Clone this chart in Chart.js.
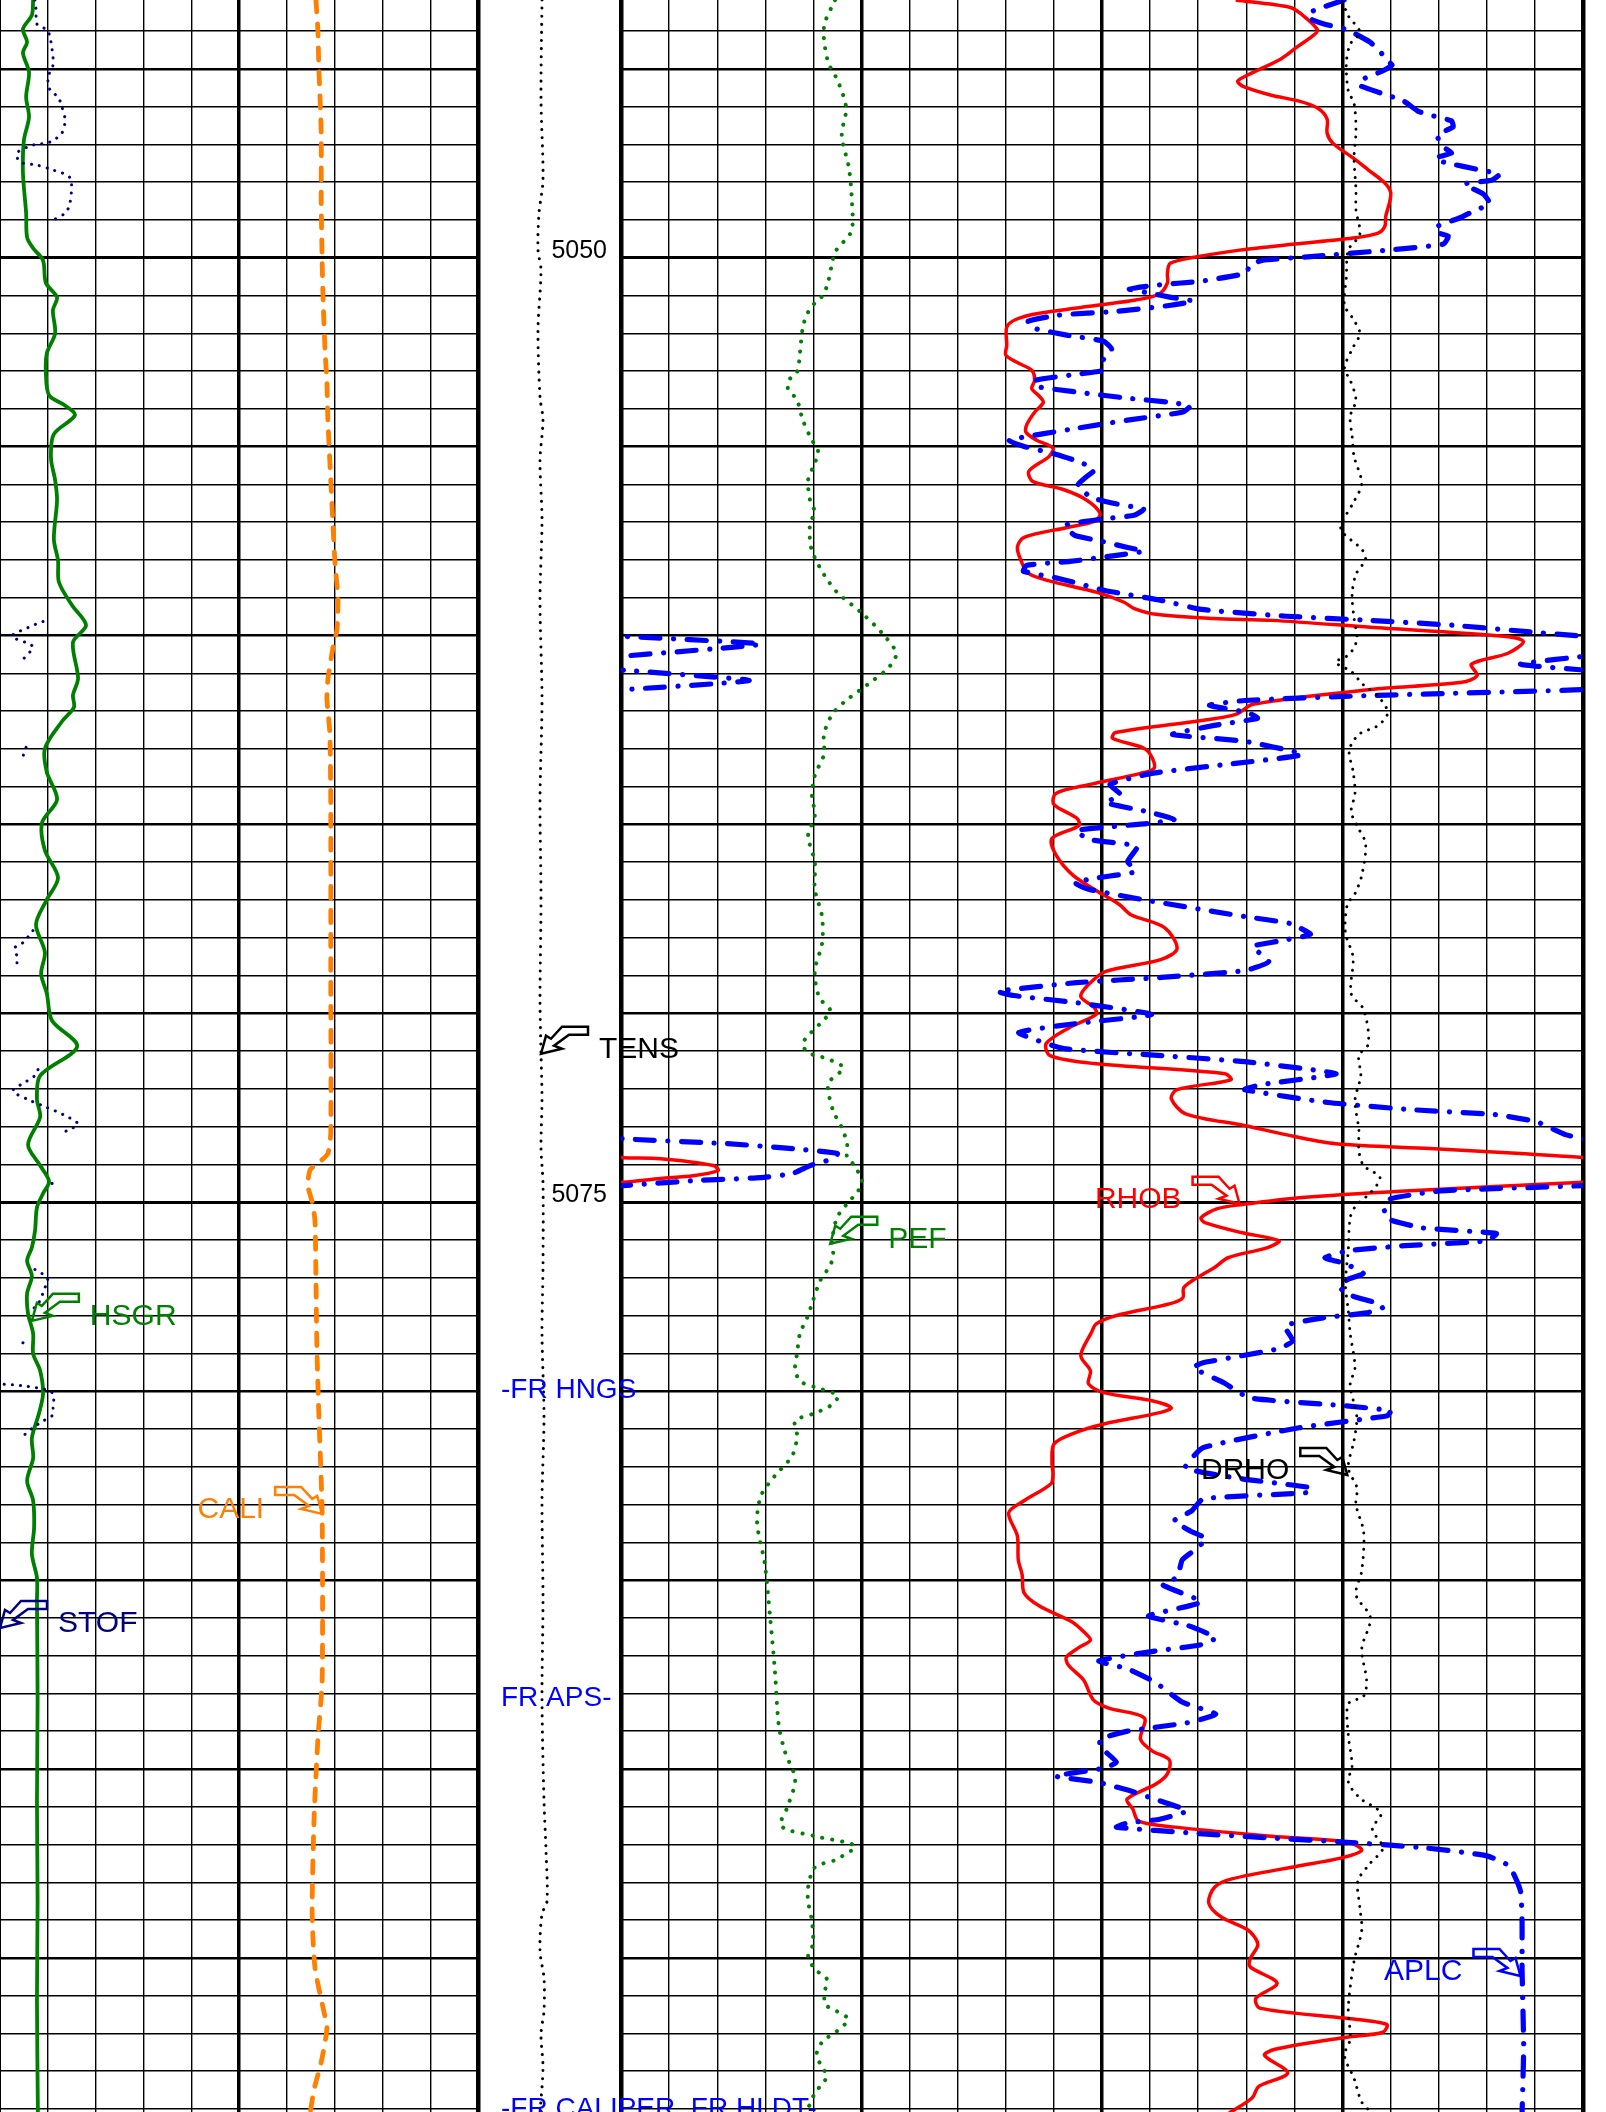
<!DOCTYPE html>
<html>
<head>
<meta charset="utf-8">
<title>Well log 5043–5099 ft</title>
<script src="https://cdn.jsdelivr.net/npm/chart.js@4.4.1/dist/chart.umd.min.js"></script>
<style>
  html, body { margin: 0; padding: 0; background: #fff; }
  #log { position: relative; width: 1606px; height: 2112px; overflow: hidden; background: #fff; }
  #log canvas { position: absolute; top: 0; }
</style>
</head>
<body>
<div id="log">
  <canvas id="track1" width="492" height="2112" style="left:0px"></canvas>
  <canvas id="track23" width="982" height="2112" style="left:611px"></canvas>
  <canvas id="depthTrack" width="440" height="2112" style="left:478px"></canvas>
</div>
<script>
// ---------------- depth window (ft) ----------------
const DEPTH_TOP = 5043.18;
const DEPTH_BOTTOM = 5099.08;
const depthMarks = [5050, 5075];

// ---------------- track 1 ----------------
// HSGR, gAPI  [depth, value]
const hsgr = [
  [5043.18,10.4],[5043.58,10.0],[5043.95,7.2],[5044.29,8.5],[5044.58,7.2],[5045.09,9.1],[5045.75,8.2],
  [5046.28,9.1],[5046.89,7.5],[5047.76,7.2],[5048.82,8.2],[5049.46,8.5],[5049.75,10.4],[5050.07,13.5],
  [5050.67,14.4],[5051.05,17.9],[5051.39,16.6],[5052.00,17.3],[5052.53,14.7],[5053.06,14.4],[5053.64,15.4],
  [5053.91,20.4],[5054.17,23.5],[5054.67,16.9],[5055.31,16.0],[5055.89,17.3],[5056.42,17.9],[5057.45,16.9],
  [5058.01,18.2],[5058.59,18.5],[5059.20,22.6],[5059.73,27.0],[5060.18,22.9],[5061.13,24.5],[5061.58,22.9],
  [5061.90,23.2],[5062.27,19.5],[5062.99,14.1],[5063.62,14.7],[5064.34,17.9],[5064.95,13.2],[5065.69,14.1],
  [5066.41,18.2],[5066.99,14.7],[5067.65,11.3],[5068.39,14.1],[5068.95,12.9],[5069.48,14.7],[5070.19,16.3],
  [5070.88,24.2],[5071.65,12.6],[5072.28,11.6],[5072.74,12.6],[5073.48,8.8],[5074.03,12.6],[5074.45,15.4],
  [5074.77,13.5],[5075.14,11.6],[5075.75,11.0],[5076.20,10.0],[5076.55,8.5],[5076.95,10.0],[5077.42,8.5],
  [5077.95,8.8],[5078.48,10.4],[5079.01,10.4],[5079.46,12.6],[5080.07,13.5],[5080.60,12.2],[5081.24,10.0],
  [5081.77,10.4],[5082.37,8.5],[5082.90,10.4],[5083.62,10.7],[5084.31,10.0],[5084.94,11.6],[5085.55,11.6],
  [5088.20,11.8],[5090.85,11.6],[5093.50,11.8],[5096.15,11.6],[5099.11,11.9]
];
// STOF, in  (null = off scale)
const stof = [
  [5043.18,0.146],[5043.44,0.151],[5043.82,0.155],[5043.97,0.197],[5044.16,0.209],[5044.50,0.218],
  [5044.90,0.222],[5045.22,0.201],[5045.56,0.209],[5045.75,0.243],[5046.01,0.259],[5046.36,0.272],
  [5046.70,0.259],[5046.94,0.209],[5047.02,0.138],[5047.23,0.071],[5047.47,0.084],[5047.55,0.155],
  [5047.68,0.222],[5047.89,0.293],[5048.56,0.293],[5048.82,0.272],[5049.01,0.222],[5049.05,null],
  [5059.60,null],[5059.63,0.180],[5059.79,0.117],[5060.02,0.050],[5060.21,0.117],[5060.31,0.138],
  [5060.61,0.100],[5060.65,null],
  [5062.96,0.109],[5063.20,0.096],[5063.25,null],
  [5067.81,0.138],[5068.13,0.096],[5068.26,0.063],[5068.50,0.071],[5068.71,0.071],[5068.75,null],
  [5071.49,0.159],[5071.65,0.146],[5071.81,0.109],[5072.05,0.054],[5072.28,0.117],[5072.47,0.188],
  [5072.68,0.264],[5072.92,0.326],[5073.05,0.301],[5073.13,0.272],[5073.17,null],
  [5074.50,0.218],[5074.60,0.218],[5074.65,null],
  [5076.78,0.146],[5076.91,0.180],[5077.07,0.201],[5077.26,0.188],[5077.47,0.176],[5077.73,0.155],
  [5077.87,0.126],[5077.92,null],
  [5078.72,0.096],[5078.88,0.075],[5078.92,null],
  [5079.80,-0.05],[5079.86,0.096],[5080.04,0.218],[5080.47,0.222],[5080.65,0.218],[5080.79,0.180],
  [5080.97,0.138],[5081.21,0.092],[5081.25,null]
];
// CALI, in
const cali = [
  [5043.18,12.61],[5043.97,12.65],[5044.95,12.67],[5046.70,12.72],[5048.48,12.72],[5050.14,12.74],
  [5051.12,12.76],[5052.45,12.80],[5053.32,12.84],[5054.30,12.86],[5055.89,12.92],[5058.12,13.01],
  [5058.99,13.07],[5059.84,13.05],[5060.29,12.97],[5061.16,12.86],[5061.69,12.84],[5062.57,12.90],
  [5064.50,12.92],[5068.84,12.92],[5073.16,12.92],[5073.71,12.86],[5073.93,12.69],[5074.14,12.49],
  [5074.56,12.44],[5074.99,12.53],[5075.49,12.59],[5077.08,12.61],[5078.85,12.63],[5080.60,12.67],
  [5083.25,12.74],[5087.67,12.74],[5089.21,12.65],[5091.33,12.57],[5093.84,12.53],[5095.27,12.59],
  [5096.33,12.76],[5096.86,12.84],[5097.76,12.72],[5098.48,12.57],[5099.11,12.49]
];

// ---------------- depth track ----------------
// TENS, lbf
const tens = [
  [5043.18,4476],[5045.83,4406],[5047.95,4545],[5048.82,4266],[5049.80,4196],[5050.33,4406],
  [5051.92,4196],[5053.69,4336],[5054.30,4545],[5055.36,4336],[5056.95,4476],[5059.07,4336],
  [5061.72,4476],[5064.37,4336],[5067.01,4406],[5069.66,4336],[5071.07,4406],[5072.31,4476],
  [5073.56,4406],[5074.51,4545],[5076.74,4545],[5078.48,4476],[5080.71,4615],[5082.90,4476],
  [5085.55,4545],[5088.20,4476],[5090.85,4615],[5092.17,4755],[5093.50,4825],[5093.84,4476],
  [5094.82,4336],[5095.54,4615],[5096.41,4615],[5097.02,4406],[5097.92,4545],[5099.11,4336]
];
const toolFlags = [
  { text: '-FR HNGS', depth: 5080.18 },
  { text: 'FR APS-', depth: 5088.34 },
  { text: '-FR CALIPER, FR HLDT-', depth: 5099.21 }
];

// ---------------- tracks 2-3 ----------------
// PEF, b/e
const pef = [
  [5043.18,4.45],[5043.89,4.22],[5044.80,4.30],[5045.33,4.51],[5046.04,4.68],[5046.76,4.59],
  [5047.63,4.74],[5048.48,4.80],[5049.27,4.80],[5049.59,4.62],[5049.85,4.45],[5050.14,4.39],
  [5050.67,4.30],[5050.99,4.20],[5051.20,4.03],[5051.44,3.89],[5051.84,3.78],[5052.53,3.72],
  [5053.03,3.66],[5053.24,3.49],[5053.46,3.47],[5053.77,3.66],[5054.30,3.78],[5054.83,3.97],
  [5055.02,4.07],[5055.18,4.10],[5055.55,3.99],[5055.89,3.89],[5056.42,3.93],[5056.74,4.03],
  [5057.03,3.93],[5057.67,3.95],[5058.17,4.12],[5058.54,4.30],[5058.88,4.51],[5059.41,5.01],
  [5059.94,5.43],[5060.47,5.72],[5060.84,5.57],[5061.19,5.24],[5061.72,4.68],[5062.09,4.39],
  [5062.62,4.22],[5063.15,4.22],[5063.70,4.03],[5064.23,3.97],[5064.76,4.03],[5065.29,3.89],
  [5066.01,4.03],[5066.72,4.03],[5067.44,4.18],[5068.15,4.18],[5068.87,4.03],[5069.58,4.12],
  [5069.93,4.35],[5070.27,4.14],[5070.54,3.93],[5070.80,3.78],[5071.04,3.89],[5071.20,4.28],
  [5071.44,4.62],[5071.78,4.35],[5071.97,4.30],[5072.58,4.41],[5073.03,4.59],[5073.45,4.70],
  [5073.82,4.70],[5073.98,4.82],[5074.43,5.01],[5074.70,4.93],[5075.04,4.70],[5075.41,4.49],
  [5076.02,4.39],[5076.47,4.41],[5076.81,4.28],[5077.08,4.14],[5077.61,3.99],[5078.06,3.87],
  [5078.48,3.72],[5079.01,3.66],[5079.38,3.62],[5079.73,3.72],[5079.91,4.07],[5080.12,4.51],
  [5080.39,4.35],[5080.60,3.99],[5080.79,3.62],[5081.18,3.66],[5081.71,3.56],[5082.24,3.20],
  [5082.77,2.91],[5083.49,2.83],[5084.57,2.99],[5085.98,3.10],[5087.40,3.20],[5088.84,3.28],
  [5089.55,3.41],[5090.27,3.62],[5090.98,3.47],[5091.51,3.33],[5091.78,4.03],[5092.04,4.86],
  [5092.41,4.45],[5092.60,4.03],[5093.13,3.89],[5093.50,3.89],[5094.03,3.97],[5094.64,3.99],
  [5094.95,3.89],[5095.30,4.03],[5095.56,4.28],[5095.88,4.24],[5096.23,4.24],[5096.36,4.41],
  [5096.62,4.72],[5096.94,4.49],[5097.20,4.20],[5097.52,4.07],[5097.81,4.14],[5098.13,4.28],
  [5098.34,4.18],[5098.58,4.03],[5099.11,3.85]
];
// RHOB, g/cm3
const rhob = [
  [5043.18,2.589],[5043.37,2.645],[5043.55,2.657],[5043.97,2.674],[5044.13,2.669],[5044.40,2.654],
  [5044.74,2.636],[5045.11,2.606],[5045.33,2.591],[5045.48,2.598],[5045.70,2.626],[5045.85,2.654],
  [5046.04,2.674],[5046.33,2.684],[5046.70,2.684],[5046.97,2.690],[5047.36,2.711],[5047.68,2.727],
  [5048.00,2.743],[5048.26,2.750],[5048.53,2.749],[5048.90,2.745],[5049.17,2.744],[5049.35,2.737],
  [5049.48,2.711],[5049.64,2.650],[5049.80,2.593],[5049.99,2.546],[5050.15,2.521],[5050.41,2.518],
  [5050.67,2.518],[5050.97,2.509],[5051.12,2.485],[5051.26,2.445],[5051.47,2.385],[5051.63,2.361],
  [5051.84,2.351],[5052.32,2.351],[5052.58,2.350],[5052.79,2.363],[5052.98,2.377],[5053.24,2.380],
  [5053.46,2.377],[5053.67,2.385],[5053.83,2.389],[5054.09,2.380],[5054.41,2.372],[5054.62,2.371],
  [5054.83,2.382],[5055.04,2.399],[5055.26,2.395],[5055.65,2.374],[5055.92,2.378],[5056.13,2.409],
  [5056.40,2.433],[5056.77,2.448],[5056.98,2.442],[5057.14,2.414],[5057.40,2.369],[5057.67,2.362],
  [5058.09,2.367],[5058.35,2.373],[5058.54,2.393],[5058.86,2.445],[5059.12,2.473],[5059.28,2.483],
  [5059.44,2.506],[5059.55,2.566],[5059.60,2.627],[5059.78,2.729],[5060.02,2.868],[5060.16,2.888],
  [5060.47,2.872],[5060.76,2.834],[5061.06,2.840],[5061.24,2.824],[5061.43,2.729],[5061.82,2.607],
  [5062.09,2.589],[5062.25,2.554],[5062.57,2.464],[5062.72,2.461],[5062.99,2.494],[5063.23,2.502],
  [5063.52,2.504],[5063.65,2.490],[5063.94,2.438],[5064.18,2.402],[5064.47,2.400],[5064.84,2.424],
  [5065.03,2.426],[5065.37,2.398],[5065.80,2.402],[5066.35,2.420],[5066.78,2.446],[5067.12,2.468],
  [5067.39,2.480],[5067.73,2.515],[5068.29,2.528],[5068.58,2.511],[5068.89,2.454],[5069.24,2.436],
  [5069.56,2.428],[5069.85,2.442],[5070.03,2.444],[5070.38,2.416],[5070.80,2.392],[5071.12,2.396],
  [5071.33,2.442],[5071.60,2.578],[5071.76,2.584],[5072.02,2.528],[5072.26,2.522],[5072.66,2.537],
  [5072.97,2.598],[5073.26,2.650],[5073.45,2.693],[5073.58,2.791],[5073.71,2.885],[5073.82,2.952],
  [5073.85,2.991],[5074.03,3.046],[5074.16,3.051],[5074.30,3.025],[5074.37,2.991],[5074.47,2.952],
  [5074.70,2.765],[5074.88,2.655],[5075.06,2.596],[5075.17,2.570],[5075.41,2.553],[5075.54,2.557],
  [5075.81,2.596],[5076.02,2.634],[5076.20,2.622],[5076.47,2.581],[5076.73,2.567],[5076.95,2.552],
  [5077.26,2.535],[5077.53,2.534],[5077.69,2.520],[5078.00,2.465],[5078.22,2.444],[5078.45,2.439],
  [5079.06,2.428],[5079.46,2.438],[5079.81,2.436],[5080.04,2.452],[5080.26,2.503],[5080.44,2.522],
  [5080.57,2.510],[5080.87,2.452],[5081.13,2.419],[5081.40,2.400],[5081.90,2.398],[5082.19,2.399],
  [5082.45,2.397],[5082.90,2.369],[5083.22,2.353],[5083.83,2.362],[5084.47,2.363],[5084.86,2.367],
  [5085.34,2.369],[5085.69,2.385],[5086.11,2.419],[5086.37,2.431],[5086.59,2.438],[5086.77,2.427],
  [5087.04,2.413],[5087.25,2.415],[5087.65,2.431],[5088.17,2.441],[5088.39,2.457],[5088.65,2.494],
  [5089.21,2.490],[5089.52,2.502],[5089.76,2.520],[5090.13,2.518],[5090.40,2.506],[5090.80,2.476],
  [5091.06,2.482],[5091.38,2.488],[5091.54,2.526],[5091.78,2.626],[5091.94,2.706],[5092.15,2.720],
  [5092.36,2.698],[5092.57,2.654],[5092.91,2.585],[5093.13,2.567],[5093.55,2.561],[5093.92,2.574],
  [5094.27,2.602],[5094.64,2.612],[5095.03,2.604],[5095.24,2.604],[5095.67,2.632],[5096.07,2.610],
  [5096.33,2.614],[5096.60,2.704],[5096.76,2.746],[5096.97,2.742],[5097.10,2.704],[5097.42,2.630],
  [5097.58,2.619],[5098.05,2.643],[5098.40,2.613],[5098.71,2.606],[5099.11,2.582]
];
// DRHO, g/cm3
const drho = [
  [5043.23,0.000],[5043.60,0.006],[5044.03,0.018],[5044.35,0.008],[5044.85,0.004],[5045.59,0.006],
  [5045.91,0.012],[5046.65,0.014],[5047.36,0.012],[5048.21,0.014],[5048.74,0.014],[5049.38,0.018],
  [5049.80,0.006],[5050.52,0.004],[5051.26,0.002],[5051.58,0.010],[5052.00,0.018],[5052.42,0.010],
  [5052.93,0.002],[5053.24,0.008],[5053.77,0.014],[5054.20,0.008],[5054.73,0.010],[5055.26,0.012],
  [5055.97,0.020],[5056.45,0.012],[5057.03,-0.001],[5057.24,-0.001],[5057.72,0.020],[5057.98,0.024],
  [5058.38,0.014],[5058.91,0.010],[5059.55,0.012],[5060.10,0.015],[5060.50,0.007],[5060.71,-0.007],
  [5060.95,0.009],[5061.29,0.021],[5061.61,0.037],[5062.04,0.047],[5062.38,0.037],[5062.62,0.017],
  [5063.04,0.007],[5063.60,0.011],[5064.18,0.013],[5064.66,0.009],[5065.03,0.015],[5065.51,0.024],
  [5066.35,0.020],[5066.83,0.013],[5067.12,0.005],[5067.86,0.003],[5068.52,0.011],[5069.48,0.009],
  [5069.90,0.022],[5070.80,0.027],[5071.12,0.017],[5071.65,0.019],[5072.31,0.013],[5073.08,0.017],
  [5073.63,0.017],[5074.03,0.022],[5074.35,0.039],[5074.75,0.029],[5075.09,0.014],[5075.41,0.008],
  [5076.28,0.006],[5077.16,0.003],[5077.87,0.006],[5078.48,0.008],[5079.38,0.013],[5079.81,0.008],
  [5080.34,0.012],[5080.71,0.015],[5081.31,0.012],[5082.03,0.006],[5082.56,0.015],[5083.01,0.014],
  [5083.73,0.022],[5084.76,0.020],[5085.39,0.014],[5086.00,0.029],[5086.82,0.020],[5087.65,0.025],
  [5088.07,0.022],[5088.28,0.006],[5089.10,0.006],[5089.92,0.010],[5090.34,0.006],[5090.77,0.018],
  [5091.17,0.040],[5091.59,0.031],[5092.09,0.042],[5092.52,0.028],[5092.97,0.016],[5093.66,0.018],
  [5094.27,0.020],[5095.09,0.012],[5096.33,0.006],[5097.15,0.008],[5097.58,0.002],[5098.19,0.012],
  [5098.82,0.020],[5099.11,0.031]
];
// APLC, v/v
const aplc = [
  [5043.18,-0.001],[5043.50,0.020],[5043.66,0.021],[5043.82,0.011],[5043.97,-0.003],[5044.29,-0.017],
  [5044.56,-0.024],[5044.74,-0.026],[5044.90,-0.031],[5045.06,-0.025],[5045.27,-0.013],[5045.43,-0.010],
  [5045.70,-0.028],[5045.85,-0.038],[5046.12,-0.047],[5046.23,-0.055],[5046.38,-0.068],[5046.54,-0.069],
  [5046.76,-0.059],[5047.07,-0.063],[5047.23,-0.068],[5047.36,-0.058],[5047.47,-0.063],[5047.68,-0.086],
  [5047.79,-0.098],[5047.95,-0.093],[5048.05,-0.076],[5048.32,-0.088],[5048.58,-0.092],[5048.74,-0.083],
  [5048.95,-0.073],[5049.17,-0.059],[5049.32,-0.058],[5049.43,-0.066],[5049.64,-0.063],[5049.80,-0.028],
  [5049.96,0.016],[5050.07,0.050],[5050.20,0.058],[5050.41,0.060],[5050.62,0.088],[5050.73,0.117],
  [5050.83,0.133],[5050.94,0.120],[5051.05,0.107],[5051.15,0.093],[5051.26,0.107],[5051.42,0.141],
  [5051.52,0.177],[5051.68,0.196],[5051.84,0.195],[5052.05,0.172],[5052.21,0.149],[5052.42,0.144],
  [5052.69,0.149],[5052.98,0.149],[5053.08,0.165],[5053.24,0.191],[5053.40,0.192],[5053.56,0.165],
  [5053.72,0.134],[5053.83,0.107],[5053.93,0.095],[5054.09,0.100],[5054.30,0.134],[5054.51,0.165],
  [5054.83,0.208],[5054.99,0.199],[5055.20,0.179],[5055.42,0.163],[5055.63,0.155],[5055.81,0.160],
  [5056.02,0.165],[5056.34,0.157],[5056.50,0.143],[5056.66,0.124],[5056.82,0.130],[5056.92,0.150],
  [5057.08,0.173],[5057.35,0.167],[5057.51,0.150],[5057.67,0.134],[5057.77,0.124],[5057.88,0.141],
  [5058.04,0.170],[5058.14,0.197],[5058.30,0.199],[5058.49,0.177],[5058.81,0.148],[5059.07,0.113],
  [5059.31,0.088],[5059.49,0.035],[5059.60,-0.017],[5059.73,-0.069],[5059.92,-0.121],[5060.02,-0.151],
  [5060.23,-0.237],[5060.55,-0.151],[5060.76,-0.111],[5060.92,-0.152],[5061.19,-0.230],[5061.43,-0.151],
  [5061.59,-0.017],[5061.72,0.061],[5061.85,0.083],[5062.04,0.059],[5062.19,0.053],[5062.38,0.080],
  [5062.62,0.106],[5062.80,0.061],[5063.15,0.025],[5063.41,0.072],[5063.65,0.119],[5063.94,0.145],
  [5064.23,0.138],[5064.42,0.148],[5064.66,0.122],[5064.87,0.105],[5064.98,0.122],[5065.16,0.166],
  [5065.40,0.158],[5065.58,0.128],[5065.98,0.134],[5066.25,0.129],[5066.41,0.152],[5066.54,0.167],
  [5066.72,0.158],[5067.01,0.122],[5067.44,0.061],[5067.62,0.033],[5067.91,0.020],[5068.10,0.041],
  [5068.23,0.056],[5068.63,0.046],[5068.87,0.061],[5069.05,0.113],[5069.19,0.166],[5069.42,0.215],
  [5069.53,0.205],[5069.72,0.166],[5070.03,0.119],[5070.27,0.166],[5070.51,0.202],[5070.93,0.174],
  [5071.12,0.113],[5071.28,0.061],[5071.60,0.004],[5071.89,0.051],[5072.02,0.061],[5072.36,0.009],
  [5072.55,-0.043],[5072.68,-0.095],[5072.87,-0.121],[5073.21,-0.139],[5073.32,-0.151],[5073.45,-0.216],
  [5073.58,-0.257],[5073.71,-0.285],[5073.85,-0.282],[5074.03,-0.268],[5074.24,-0.257],[5074.35,-0.237],
  [5074.43,-0.195],[5074.56,-0.151],[5074.70,-0.061],[5074.91,-0.030],[5075.17,-0.026],[5075.44,-0.028],
  [5075.68,-0.050],[5075.83,-0.096],[5076.02,-0.090],[5076.15,-0.039],[5076.28,-0.004],[5076.47,0.011],
  [5076.63,-0.002],[5076.89,-0.013],[5077.03,-0.004],[5077.21,0.002],[5077.42,-0.002],[5077.69,-0.023],
  [5077.79,-0.025],[5077.93,-0.015],[5078.06,0.012],[5078.27,0.036],[5078.67,0.031],[5078.88,0.040],
  [5079.25,0.087],[5079.38,0.093],[5079.78,0.074],[5080.18,0.058],[5080.39,-0.002],[5080.52,-0.030],
  [5080.65,-0.028],[5080.97,0.027],[5081.50,0.087],[5082.03,0.098],[5082.32,0.063],[5082.56,0.019],
  [5082.69,0.023],[5082.85,0.087],[5083.17,0.094],[5083.43,0.105],[5083.70,0.095],[5083.91,0.085],
  [5084.23,0.093],[5084.47,0.100],[5084.92,0.103],[5085.13,0.112],[5085.58,0.088],[5085.95,0.121],
  [5086.21,0.096],[5086.53,0.079],[5086.72,0.089],[5086.88,0.117],[5087.14,0.152],[5087.35,0.134],
  [5087.70,0.117],[5088.23,0.100],[5088.55,0.079],[5088.78,0.097],[5089.00,0.134],[5089.21,0.151],
  [5089.42,0.151],[5089.82,0.141],[5089.98,0.149],[5090.19,0.179],[5090.35,0.153],[5090.56,0.134],
  [5090.80,0.117],[5091.11,0.097],[5091.33,0.114],[5091.43,0.134],[5091.54,0.141],[5091.70,0.093],
  [5091.83,0.045],[5091.94,-0.003],[5092.09,-0.052],[5092.30,-0.090],[5092.57,-0.104],[5093.23,-0.111],
  [5094.05,-0.112],[5095.30,-0.112],[5097.36,-0.113],[5099.11,-0.112]
];

// Curve name tags: tip position in curve units, side +1 = pointer to the left of the name
const GREEN = '#008000', NAVY = '#000080', ORANGE = '#ff8000', RED = '#ff0000', BLUE = '#0000ff', BLACK = '#000000';
const track1Tags = [
  { text: 'HSGR', axis: 'hsgr', value: 10.0, depth: 5078.14, side: 1, color: GREEN },
  { text: 'STOF', axis: 'stof', value: 0.0, depth: 5086.27, side: 1, color: NAVY },
  { text: 'CALI', axis: 'cali', value: 12.74, depth: 5083.25, side: -1, color: ORANGE }
];
const depthTags = [
  { text: 'TENS', axis: 'tens', value: 4406, depth: 5071.07, side: 1, color: BLACK }
];
const track23Tags = [
  { text: 'PEF', axis: 'pef', value: 4.35, depth: 5076.10, side: 1, color: GREEN },
  { text: 'RHOB', axis: 'rhob', value: 2.593, depth: 5075.04, side: -1, color: RED },
  { text: 'DRHO', axis: 'drho', value: 0.005, depth: 5082.22, side: -1, color: BLACK },
  { text: 'APLC', axis: 'aplc', value: -0.111, depth: 5095.48, side: -1, color: BLUE }
];

// ---------------- drawing helpers ----------------
const FONT = '"Liberation Sans", Arial, Helvetica, sans-serif';
const pointerOutline = [[0,0],[5,-18],[10,-15],[21,-27],[47,-27],[47,-19],[28,-19],[13,-8],[21,-5]];

const logAnnotations = {
  id: 'logAnnotations',
  afterDatasetsDraw(chart, args, opts) {
    const ctx = chart.ctx;
    const yScale = chart.scales.y;
    const area = chart.chartArea;
    ctx.save();
    ctx.textBaseline = 'alphabetic';
    (opts.depthMarks || []).forEach(d => {
      ctx.font = '25px ' + FONT;
      ctx.fillStyle = '#000';
      ctx.textAlign = 'right';
      ctx.fillText(String(d), area.right - 14, yScale.getPixelForValue(d));
    });
    (opts.flags || []).forEach(f => {
      ctx.font = '28px ' + FONT;
      ctx.fillStyle = BLUE;
      ctx.textAlign = 'left';
      ctx.fillText(f.text, area.left + 23, yScale.getPixelForValue(f.depth));
    });
    (opts.tags || []).forEach(t => {
      const px = chart.scales[t.axis].getPixelForValue(t.value);
      const py = yScale.getPixelForValue(t.depth);
      ctx.save();
      ctx.translate(px, py);
      ctx.scale(t.side, 1);
      ctx.beginPath();
      pointerOutline.forEach(([a, b], i) => (i ? ctx.lineTo(a, b) : ctx.moveTo(a, b)));
      ctx.closePath();
      ctx.lineWidth = 2.5;
      ctx.lineJoin = 'miter';
      ctx.strokeStyle = t.color;
      ctx.stroke();
      ctx.restore();
      ctx.font = '30px ' + FONT;
      ctx.fillStyle = t.color;
      ctx.textAlign = t.side > 0 ? 'left' : 'right';
      ctx.fillText(t.text, px + t.side * 58, py + 4);
    });
    ctx.restore();
  }
};

function depthAxis(withGrid) {
  return {
    type: 'linear', axis: 'y', position: 'left', reverse: true,
    min: DEPTH_TOP, max: DEPTH_BOTTOM,
    ticks: { display: false },
    border: { display: false },
    grid: {
      display: withGrid, drawTicks: false, color: '#000',
      lineWidth: c => {
        const v = c.tick ? c.tick.value : 1;
        return v % 25 === 0 ? 3 : (v % 5 === 0 ? 2.5 : 1.4);
      }
    },
    afterBuildTicks: s => {
      const t = [];
      for (let d = Math.ceil(DEPTH_TOP); d <= DEPTH_BOTTOM; d++) t.push({ value: d });
      s.ticks = t;
    }
  };
}

function gridAxis(min, max, divisions, widthFor) {
  return {
    type: 'linear', axis: 'x', position: 'bottom', min, max,
    ticks: { display: false },
    border: { display: false },
    grid: { drawTicks: false, color: '#000', lineWidth: c => widthFor(c.index, divisions) },
    afterBuildTicks: s => {
      const t = [];
      for (let i = 0; i <= divisions; i++) t.push({ value: min + (max - min) * i / divisions });
      s.ticks = t;
    }
  };
}

function hiddenAxis(min, max, reverse) {
  return { type: 'linear', axis: 'x', display: false, min, max, reverse: !!reverse };
}

function trace(points, axis, style) {
  return Object.assign({
    data: points.map(p => ({ x: p[1], y: p[0] })),
    xAxisID: axis, yAxisID: 'y',
    pointRadius: 0, pointHoverRadius: 0, fill: false,
    tension: 0.25, clip: 0, spanGaps: false,
    borderJoinStyle: 'round'
  }, style);
}

// values beyond the right edge re-enter from the left (backup wrap)
function wrapped(points, shift) {
  return points.map(p => [p[0], p[1] === null ? null : p[1] + shift]);
}

const baseOptions = (padding, scales, pluginOpts) => ({
  responsive: false,
  maintainAspectRatio: false,
  animation: false,
  devicePixelRatio: 1,
  indexAxis: 'y',
  events: [],
  layout: { padding },
  scales,
  plugins: {
    legend: { display: false },
    tooltip: { enabled: false },
    title: { display: false },
    logAnnotations: pluginOpts
  }
});

// ---------------- track 1 ----------------
new Chart(document.getElementById('track1'), {
  type: 'line',
  data: {
    datasets: [
      trace(cali, 'cali', { borderColor: ORANGE, borderWidth: 4.8, borderDash: [12, 12], borderCapStyle: 'round', tension: 0.2 }),
      trace(stof, 'stof', { borderColor: NAVY, borderWidth: 3, borderDash: [0.1, 8], borderCapStyle: 'round', tension: 0.3 }),
      trace(hsgr, 'hsgr', { borderColor: GREEN, borderWidth: 3.8, borderCapStyle: 'round', tension: 0.3 })
    ]
  },
  options: baseOptions({ left: 0, right: 14, top: 0, bottom: 0 }, {
    y: depthAxis(true),
    hsgr: gridAxis(0, 150, 10, (i, n) => (i === n ? 4.5 : i === 0 ? 2 : i === 5 ? 3.5 : 1.4)),
    cali: hiddenAxis(6, 16),
    stof: hiddenAxis(0, 2)
  }, { tags: track1Tags }),
  plugins: [logAnnotations]
});

// ---------------- tracks 2-3 ----------------
new Chart(document.getElementById('track23'), {
  type: 'line',
  data: {
    datasets: [
      trace(pef, 'pef', { borderColor: GREEN, borderWidth: 4, borderDash: [0.1, 10], borderCapStyle: 'round', tension: 0.3 }),
      trace(drho, 'drho', { borderColor: BLACK, borderWidth: 2.9, borderDash: [0.1, 8], borderCapStyle: 'round', tension: 0.3 }),
      trace(aplc, 'aplc', { borderColor: BLUE, borderWidth: 5.2, borderDash: [19, 13.5, 0.1, 13.5], borderCapStyle: 'round', tension: 0.15 }),
      trace(wrapped(aplc, 0.6), 'aplc', { borderColor: BLUE, borderWidth: 5.2, borderDash: [19, 13.5, 0.1, 13.5], borderCapStyle: 'round', tension: 0.15 }),
      trace(rhob, 'rhob', { borderColor: RED, borderWidth: 3.5, tension: 0.3 }),
      trace(wrapped(rhob, -1.0), 'rhob', { borderColor: RED, borderWidth: 3.5, tension: 0.3 })
    ]
  },
  options: baseOptions({ left: 10, right: 10, top: 0, bottom: 0 }, {
    y: depthAxis(true),
    pef: gridAxis(0, 20, 20, (i, n) => (i === 0 || i === n ? 4.5 : i % 5 === 0 ? 3.5 : 1.4)),
    rhob: hiddenAxis(1.95, 2.95),
    drho: hiddenAxis(-0.75, 0.25),
    aplc: hiddenAxis(-0.15, 0.45, true)
  }, { tags: track23Tags }),
  plugins: [logAnnotations]
});

// ---------------- depth track ----------------
new Chart(document.getElementById('depthTrack'), {
  type: 'line',
  data: {
    datasets: [
      trace(tens, 'tens', { borderColor: BLACK, borderWidth: 3, borderDash: [0.1, 8], borderCapStyle: 'round', tension: 0.3 })
    ]
  },
  options: baseOptions({ left: 0, right: 297, top: 0, bottom: 0 }, {
    y: depthAxis(false),
    tens: hiddenAxis(0, 10000)
  }, { tags: depthTags, depthMarks, flags: toolFlags }),
  plugins: [logAnnotations]
});
</script>
</body>
</html>
